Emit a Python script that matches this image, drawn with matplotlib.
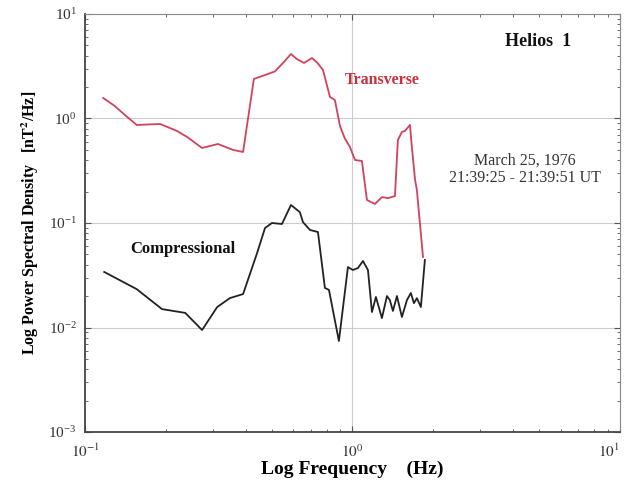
import matplotlib.pyplot as plt
import matplotlib.ticker as mticker

# spectres Helios 1, 25 mars 1976
freq_trans = [0.117, 0.129, 0.141, 0.156, 0.191, 0.221, 0.241, 0.274, 0.314, 0.358, 0.390,
              0.428, 0.470, 0.513, 0.550, 0.589, 0.620, 0.659, 0.706, 0.740, 0.776, 0.824,
              0.860, 0.898, 0.935, 0.979, 1.022, 1.085, 1.133, 1.214, 1.289, 1.357, 1.442,
              1.479, 1.531, 1.571, 1.641, 1.665, 1.715, 1.742, 1.836]
psd_trans = [1.57, 1.32, 1.08, 0.867, 0.886, 0.759, 0.665, 0.522, 0.570, 0.500, 0.478,
             2.39, 2.60, 2.82, 3.40, 4.14, 3.70, 3.40, 3.79, 3.40, 2.91, 1.61,
             1.50, 0.850, 0.650, 0.533, 0.401, 0.392, 0.166, 0.152, 0.177, 0.173, 0.181,
             0.622, 0.743, 0.760, 0.867, 0.560, 0.258, 0.207, 0.0473]

freq_comp = [0.118, 0.156, 0.194, 0.237, 0.274, 0.312, 0.348, 0.390, 0.440, 0.471, 0.500,
             0.545, 0.589, 0.636, 0.653, 0.694, 0.743, 0.789, 0.817, 0.890, 0.962, 1.004,
             1.049, 1.095, 1.143, 1.183, 1.224, 1.289, 1.346, 1.380, 1.417, 1.467, 1.531,
             1.599, 1.654, 1.698, 1.742, 1.803, 1.866]
psd_comp = [0.0340, 0.0233, 0.0150, 0.0138, 0.00946, 0.0157, 0.0191, 0.0209, 0.0516, 0.0895, 0.100,
            0.0978, 0.1486, 0.127, 0.102, 0.0857, 0.082, 0.0239, 0.0229, 0.00743, 0.0379, 0.0355,
            0.0371, 0.0433, 0.0355, 0.01406, 0.0196, 0.0123, 0.0200, 0.0183, 0.0144, 0.0200, 0.0126,
            0.0183, 0.0214, 0.0171, 0.0191, 0.0157, 0.0443]

x_ticks = [0.1, 1, 10]
x_ticklabels = ["$10^{-1}$", "$10^{0}$", "$10^{1}$"]

plt.rcParams["font.family"] = ["Liberation Serif", "DejaVu Serif"]
plt.rcParams["mathtext.fontset"] = "stix"

fig = plt.figure(figsize=(6.28, 4.82), dpi=100)
ax = fig.add_axes([0.1354, 0.1037, 0.8516, 0.8673])

ax.plot(freq_trans, psd_trans, color="#d2425a", lw=1.3)
ax.plot(freq_comp, psd_comp, color="#222222", lw=1.3)

ax.set_xscale("log")
ax.set_yscale("log")
ax.set_xlim(0.1, 10)
ax.set_ylim(1e-3, 10)

# grille légère aux décades
for y in [1e0, 1e-1, 1e-2]:
    ax.axhline(y, color="#cccccc", lw=0.8, zorder=0)
ax.axvline(1.0, color="#cccccc", lw=0.8, zorder=0)

ax.yaxis.set_major_locator(mticker.LogLocator(base=10, numticks=10))
ax.yaxis.set_minor_locator(mticker.LogLocator(base=10, subs=range(2, 10), numticks=10))
ax.xaxis.set_minor_locator(mticker.LogLocator(base=10, subs=range(2, 10), numticks=10))
ax.yaxis.set_minor_formatter(mticker.NullFormatter())
ax.xaxis.set_minor_formatter(mticker.NullFormatter())
ax.set_xticks(x_ticks, labels=x_ticklabels)

ax.tick_params(which="both", direction="in", top=True, right=True, colors="#555555",
               labelcolor="#333333", labelsize=11)
ax.tick_params(which="major", length=4, width=0.8)
ax.tick_params(which="minor", length=2.5, width=0.6)
ax.tick_params(axis="x", pad=8)
ax.tick_params(axis="y", pad=6)

# dernier label x aligné à droite pour rester dans la figure
ax.get_xticklabels()[-1].set_horizontalalignment("right")

for side in ["left", "bottom"]:
    ax.spines[side].set_color("#444444")
    ax.spines[side].set_linewidth(1.3)
for side in ["top", "right"]:
    ax.spines[side].set_color("#888888")
    ax.spines[side].set_linewidth(0.8)

ax.set_xlabel("Log Frequency    (Hz)", fontsize=14, fontweight="bold", labelpad=0)
ax.set_ylabel("Log Power Spectral Density   [nT$^\\mathbf{2}$/Hz]", fontsize=11.5,
              fontweight="bold", labelpad=5)

ax.text(0.847, 0.933, "Helios  1", transform=ax.transAxes, fontsize=13, fontweight="bold",
        ha="center", va="center", color="#111111")
ax.text(0.555, 0.842, "Transverse", transform=ax.transAxes, fontsize=11.5, fontweight="bold",
        ha="center", va="center", color="#c8303a")
ax.text(0.822, 0.629, "March 25, 1976\n21:39:25 - 21:39:51 UT", transform=ax.transAxes,
        fontsize=11.5, ha="center", va="center", color="#333333", linespacing=1.1)
ax.text(0.183, 0.438, "Compressional", transform=ax.transAxes, fontsize=12, fontweight="bold",
        ha="center", va="center", color="#111111")

fig.savefig("out.png", dpi=100)
